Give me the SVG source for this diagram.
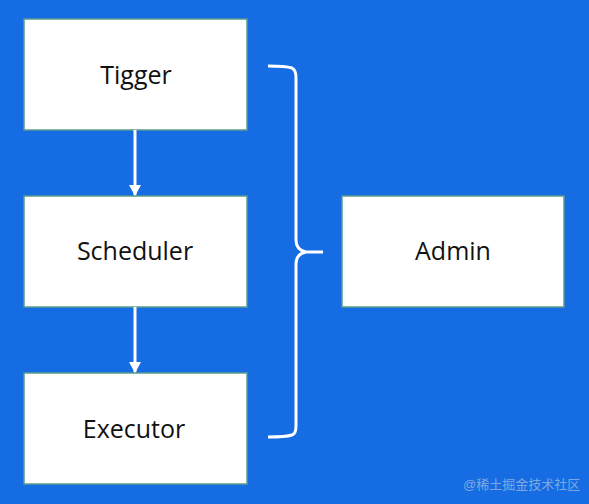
<svg xmlns="http://www.w3.org/2000/svg" width="589" height="504" viewBox="0 0 589 504">
<defs>
<style>
.box{fill:#ffffff;stroke:#5a9c8c;stroke-width:1.5}
.lbl{font-family:"Open Sans","Noto Sans","Liberation Sans",sans-serif;font-size:25px;fill:#111;text-anchor:middle}
.conn{stroke:#ffffff;stroke-width:3;fill:none}
.wm{font-family:"Liberation Sans","Noto Sans CJK SC",sans-serif;font-size:13px;fill:#9cb8e0;fill-opacity:0.8}
</style>
<marker id="ah" markerWidth="12" markerHeight="12" refX="10" refY="6" orient="auto" markerUnits="userSpaceOnUse">
<path d="M0,0 L11,6 L0,12 Z" fill="#ffffff"/>
</marker>
</defs>
<rect width="589" height="504" fill="#166de3"/>
<g id="tigger"><rect class="box" x="24" y="19" width="223" height="111"/><text class="lbl" x="136" y="84">Tigger</text></g>
<g id="scheduler"><rect class="box" x="24" y="196" width="223" height="111"/><text class="lbl" x="135" y="260">Scheduler</text></g>
<g id="executor"><rect class="box" x="24" y="373" width="223" height="111"/><text class="lbl" x="134" y="438">Executor</text></g>
<g id="admin"><rect class="box" x="342" y="196" width="222" height="111"/><text class="lbl" x="453" y="260">Admin</text></g>
<g id="connectors">
<line class="conn" x1="135" y1="130" x2="135" y2="195" marker-end="url(#ah)"/>
<line class="conn" x1="135" y1="307" x2="135" y2="372" marker-end="url(#ah)"/>
<path class="conn" d="M268,66 Q286,66 292,68 Q296,70 296,78 L296,240 Q296,250 306,252 L323,252 M306,252 Q296,254 296,264 L296,426 Q296,434 292,435 Q286,437 268,437"/>
</g>
<text class="wm" x="463" y="489">@稀土掘金技术社区</text>
</svg>
